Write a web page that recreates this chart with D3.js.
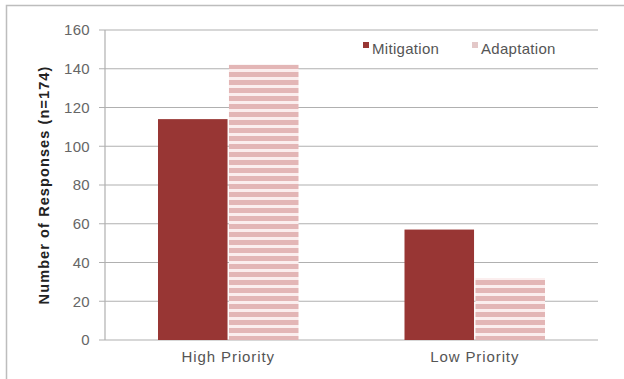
<!DOCTYPE html>
<html><head><meta charset="utf-8">
<script src="https://cdn.jsdelivr.net/npm/d3@7"></script>
<style>body{margin:0;background:#fff}svg{display:block}</style>
</head><body><svg id="c" width="624" height="379"></svg>
<script>
const categories = ["High Priority", "Low Priority"];
const seriesNames = ["Mitigation", "Adaptation"];
const mitigation = [114, 57];
const adaptation = [142, 32];
const yTicks = [0, 20, 40, 60, 80, 100, 120, 140, 160];

const svg = d3.select("#c");
const W = 624, H = 379;
const m = {l: 105, r: 26, t: 30, b: 39};
const font = "'Liberation Sans', Arial, sans-serif";

// outer frame
svg.append("rect").attr("x", 6.5).attr("y", 5.5).attr("width", 640).attr("height", 400)
  .attr("fill", "#fff").attr("stroke", "#bdbdbd").attr("stroke-width", 1.5);

const defs = svg.append("defs");
const pat = defs.append("pattern").attr("id", "stripes").attr("patternUnits", "userSpaceOnUse")
  .attr("width", 8).attr("height", 8);
pat.append("rect").attr("width", 8).attr("height", 8).attr("fill", "#fbeeee");
pat.append("rect").attr("width", 8).attr("height", 5).attr("fill", "#e3b6b6");

const x0 = d3.scaleBand().domain(categories).range([m.l, W - m.r]).paddingInner(0.43).paddingOuter(0.215);
const x1 = d3.scaleBand().domain(seriesNames).range([0, x0.bandwidth()]).paddingInner(0.02);
const y = d3.scaleLinear().domain([0, 160]).range([H - m.b, m.t]);

// gridlines
svg.append("g").selectAll("line").data(yTicks).join("line")
  .attr("x1", m.l - 6).attr("x2", W - m.r)
  .attr("y1", d => y(d)).attr("y2", d => y(d))
  .attr("stroke", "#b0b0b0").attr("stroke-width", 1.2);

// y axis line
svg.append("line").attr("x1", m.l).attr("x2", m.l).attr("y1", y(160)).attr("y2", y(0))
  .attr("stroke", "#b0b0b0").attr("stroke-width", 1.2);

const yAxis = svg.append("g").attr("transform", `translate(${m.l},0)`)
  .call(d3.axisLeft(y).tickValues(yTicks).tickSize(0).tickPadding(15));
yAxis.select(".domain").remove();
yAxis.selectAll("text").attr("font-family", font).attr("font-size", 15).attr("fill", "#666")
  .attr("letter-spacing", 0.3);

const colors = {Mitigation: "#983634", Adaptation: "url(#stripes)"};
const vals = {Mitigation: mitigation, Adaptation: adaptation};

const g = svg.append("g");
categories.forEach((c, i) => {
  seriesNames.forEach(s => {
    g.append("rect").attr("x", x0(c) + x1(s)).attr("width", x1.bandwidth())
      .attr("y", y(vals[s][i])).attr("height", y(0) - y(vals[s][i]))
      .attr("fill", colors[s]);
  });
});

const xAxis = svg.append("g").attr("transform", `translate(0,${y(0)})`)
  .call(d3.axisBottom(x0).tickSize(0).tickPadding(11));
xAxis.select(".domain").remove();
xAxis.selectAll("text").attr("font-family", font).attr("font-size", 15).attr("fill", "#555")
  .attr("letter-spacing", 0.9);

// y title
svg.append("text").attr("transform", `translate(49,${(y(0)+y(160))/2}) rotate(-90)`)
  .attr("text-anchor", "middle").attr("font-family", font).attr("font-size", 14.5)
  .attr("font-weight", "bold").attr("fill", "#222").attr("letter-spacing", 1.1)
  .text("Number of Responses (n=174)");

// legend
const lg = svg.append("g");
lg.append("rect").attr("x", 352).attr("y", 36).attr("width", 240).attr("height", 24).attr("fill", "#fff");
const items = [{n: "Mitigation", x: 363}, {n: "Adaptation", x: 472}];
items.forEach(it => {
  lg.append("rect").attr("x", it.x).attr("y", 42).attr("width", 6).attr("height", 6)
    .attr("fill", it.n === "Mitigation" ? "#983634" : "#e3c8c8");
  lg.append("text").attr("x", it.x + 9).attr("y", 54).attr("font-family", font)
    .attr("font-size", 15).attr("fill", "#555").attr("letter-spacing", 0.3).text(it.n);
});
</script></body></html>
